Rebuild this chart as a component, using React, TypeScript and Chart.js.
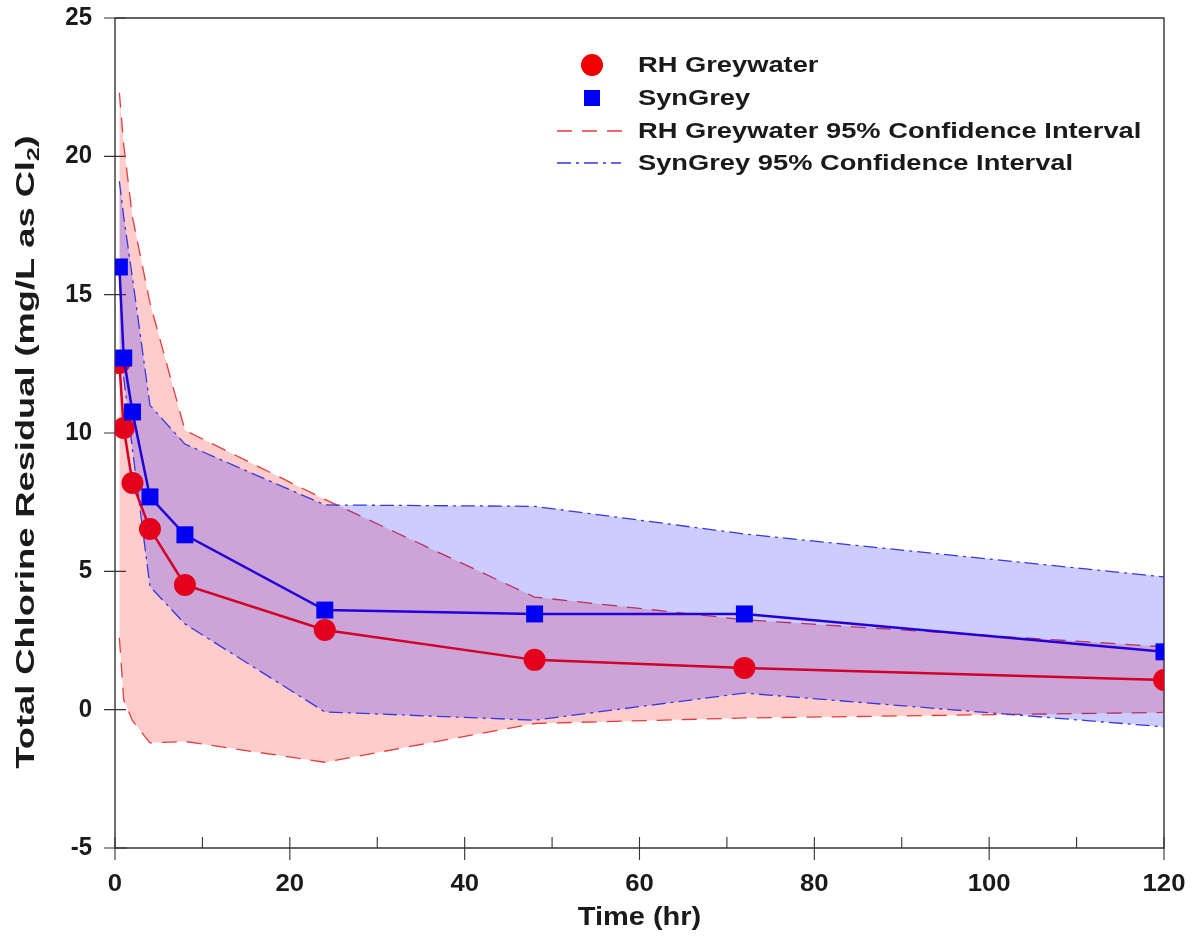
import React, { useEffect, useRef } from 'react';
import { Chart, registerables } from 'chart.js';

Chart.register(...registerables);

// ---- Data ----
const times = [0.5, 1, 2, 4, 8, 24, 48, 72, 120];
const rhGreywater = [12.53, 10.18, 8.19, 6.53, 4.51, 2.88, 1.8, 1.51, 1.07];
const synGrey = [16.0, 12.71, 10.76, 7.69, 6.32, 3.6, 3.46, 3.46, 2.09];
const rhUpperCI = [22.3, 20.4, 17.8, 14.7, 10.1, 7.6, 4.07, 3.25, 2.27];
const rhLowerCI = [2.6, 0.35, -0.4, -1.2, -1.15, -1.9, -0.5, -0.3, -0.1];
const synUpperCI = [19.1, 17.8, 15.6, 11.0, 9.6, 7.4, 7.35, 6.35, 4.8];
const synLowerCI = [13.0, 12.0, 9.4, 4.45, 3.1, -0.08, -0.38, 0.6, -0.62];

const xTicksMajor = [0, 20, 40, 60, 80, 100, 120];
const xTicksMinor = [10, 30, 50, 70, 90, 110];
const yTicks = [-5, 0, 5, 10, 15, 20, 25];

const xTitle = 'Time (hr)';
const yTitleMain = 'Total Chlorine Residual (mg/L as Cl';
const yTitleSub = '2';
const yTitleEnd = ')';

const legendLabels = [
  'RH Greywater',
  'SynGrey',
  'RH Greywater 95% Confidence Interval',
  'SynGrey 95% Confidence Interval',
];

const FONT = '"Liberation Sans", Arial, Helvetica, sans-serif';
const TEXT = '#1a1a1a';
const RED_LINE = 'rgb(208,0,40)';
const RED_MARK = 'rgb(228,0,28)';
const BLUE_LINE = 'rgb(35,0,215)';
const BLUE_MARK = 'rgb(0,0,245)';
const RED_CI = 'rgb(228,60,60)';
const BLUE_CI = 'rgb(55,55,225)';
const RED_DASH = [15, 10];
const BLUE_DASH = [14, 5, 3, 5];

const pts = (ys: number[]) => times.map((t, i) => ({ x: t, y: ys[i] }));

function drawText(
  ctx: CanvasRenderingContext2D,
  text: string,
  x: number,
  y: number,
  size: number,
  sx: number,
  align: CanvasTextAlign,
) {
  ctx.save();
  ctx.translate(x, y);
  ctx.scale(sx, 1);
  ctx.font = `bold ${size}px ${FONT}`;
  ctx.textAlign = align;
  ctx.textBaseline = 'middle';
  ctx.fillStyle = TEXT;
  ctx.fillText(text, 0, 0);
  ctx.restore();
}

const frameTicks = {
  id: 'frameTicks',
  beforeDatasetsDraw(chart: any) {
    const { ctx, chartArea: a, scales } = chart;
    const xs = scales.x;
    const ys = scales.y;
    ctx.save();
    ctx.strokeStyle = '#333';
    ctx.lineWidth = 1.4;
    ctx.beginPath();
    ctx.rect(a.left, a.top, a.right - a.left, a.bottom - a.top);
    ctx.stroke();
    ctx.lineWidth = 1.1;
    ctx.beginPath();
    xTicksMajor.forEach((v) => {
      const px = xs.getPixelForValue(v);
      ctx.moveTo(px, a.bottom - 11);
      ctx.lineTo(px, a.bottom + 12);
    });
    xTicksMinor.forEach((v) => {
      const px = xs.getPixelForValue(v);
      ctx.moveTo(px, a.bottom - 11);
      ctx.lineTo(px, a.bottom);
    });
    yTicks.forEach((v) => {
      const py = ys.getPixelForValue(v);
      ctx.moveTo(a.left - 11, py);
      ctx.lineTo(a.left + 11, py);
    });
    ctx.stroke();
    ctx.restore();
  },
  afterDraw(chart: any) {
    const { ctx, chartArea: a, scales } = chart;
    const xs = scales.x;
    const ys = scales.y;
    xTicksMajor.forEach((v) => {
      drawText(ctx, String(v), xs.getPixelForValue(v), a.bottom + 36, 24, 1.07, 'center');
    });
    yTicks.forEach((v) => {
      drawText(ctx, String(v), a.left - 23, ys.getPixelForValue(v), 25, 0.96, 'right');
    });
    drawText(ctx, xTitle, (a.left + a.right) / 2, 918, 25, 1.16, 'center');
    ctx.save();
    ctx.translate(27, 452);
    ctx.rotate(-Math.PI / 2);
    ctx.scale(1.45, 1);
    ctx.fillStyle = TEXT;
    ctx.textBaseline = 'middle';
    ctx.textAlign = 'left';
    const big = `bold 25px ${FONT}`;
    const small = `bold 17px ${FONT}`;
    ctx.font = big;
    const w1 = ctx.measureText(yTitleMain).width;
    const w3 = ctx.measureText(yTitleEnd).width;
    ctx.font = small;
    const w2 = ctx.measureText(yTitleSub).width;
    let x0 = -(w1 + w2 + w3) / 2;
    ctx.font = big;
    ctx.fillText(yTitleMain, x0, 0);
    x0 += w1;
    ctx.font = small;
    ctx.fillText(yTitleSub, x0, 7);
    x0 += w2;
    ctx.font = big;
    ctx.fillText(yTitleEnd, x0, 0);
    ctx.restore();
  },
};

const customLegend = {
  id: 'customLegend',
  afterDraw(chart: any) {
    const { ctx } = chart;
    const rows = [65, 98, 131, 163];
    const textX = 638;
    ctx.save();
    ctx.fillStyle = 'rgb(240,0,0)';
    ctx.beginPath();
    ctx.arc(592, rows[0], 11, 0, Math.PI * 2);
    ctx.fill();
    ctx.fillStyle = BLUE_MARK;
    ctx.fillRect(584, rows[1] - 8, 16, 16);
    ctx.lineWidth = 1.4;
    ctx.strokeStyle = RED_CI;
    ctx.setLineDash(RED_DASH);
    ctx.beginPath();
    ctx.moveTo(557, rows[2]);
    ctx.lineTo(622, rows[2]);
    ctx.stroke();
    ctx.strokeStyle = BLUE_CI;
    ctx.setLineDash(BLUE_DASH);
    ctx.beginPath();
    ctx.moveTo(557, rows[3]);
    ctx.lineTo(621, rows[3]);
    ctx.stroke();
    ctx.setLineDash([]);
    ctx.restore();
    legendLabels.forEach((t, i) => drawText(ctx, t, textX, rows[i] + 1, 22, 1.24, 'left'));
  },
};

export default function App() {
  const ref = useRef<HTMLCanvasElement | null>(null);

  useEffect(() => {
    document.body.style.margin = '0';
    const canvas = ref.current;
    if (!canvas) return;
    const chart = new Chart(canvas, {
      type: 'line',
      data: {
        datasets: [
          {
            label: legendLabels[0],
            data: pts(rhGreywater),
            borderColor: RED_LINE,
            borderWidth: 2.5,
            pointStyle: 'circle',
            pointRadius: 11,
            pointBackgroundColor: RED_MARK,
            pointBorderWidth: 0,
            fill: false,
            order: 2,
          },
          {
            label: legendLabels[1],
            data: pts(synGrey),
            borderColor: BLUE_LINE,
            borderWidth: 2.5,
            pointStyle: 'rect',
            pointRadius: 12,
            pointBackgroundColor: BLUE_MARK,
            pointBorderWidth: 0,
            fill: false,
            order: 1,
          },
          {
            label: 'RH upper',
            data: pts(rhUpperCI),
            borderColor: RED_CI,
            borderWidth: 1.3,
            borderDash: RED_DASH,
            pointRadius: 0,
            backgroundColor: 'rgba(255,0,0,0.2)',
            fill: '+1',
            order: 10,
          },
          {
            label: 'RH lower',
            data: pts(rhLowerCI),
            borderColor: RED_CI,
            borderWidth: 1.3,
            borderDash: RED_DASH,
            pointRadius: 0,
            fill: false,
            order: 9,
          },
          {
            label: 'Syn upper',
            data: pts(synUpperCI),
            borderColor: BLUE_CI,
            borderWidth: 1.3,
            borderDash: BLUE_DASH,
            pointRadius: 0,
            backgroundColor: 'rgba(0,0,255,0.2)',
            fill: '+1',
            order: 8,
          },
          {
            label: 'Syn lower',
            data: pts(synLowerCI),
            borderColor: BLUE_CI,
            borderWidth: 1.3,
            borderDash: BLUE_DASH,
            pointRadius: 0,
            fill: false,
            order: 7,
          },
        ],
      },
      options: {
        responsive: false,
        animation: false,
        devicePixelRatio: 1,
        layout: { padding: { top: 18, right: 28, left: 0, bottom: 0 } },
        plugins: {
          legend: { display: false },
          tooltip: { enabled: false },
        },
        elements: { line: { tension: 0 } },
        scales: {
          x: {
            type: 'linear',
            min: 0,
            max: 120,
            ticks: { display: false, stepSize: 20 },
            grid: { display: false, drawTicks: false },
            border: { display: false },
            afterFit: (s: any) => {
              s.height = 90;
            },
          },
          y: {
            type: 'linear',
            min: -5,
            max: 25,
            ticks: { display: false, stepSize: 5 },
            grid: { display: false, drawTicks: false },
            border: { display: false },
            afterFit: (s: any) => {
              s.width = 115;
            },
          },
        },
      },
      plugins: [frameTicks, customLegend],
    } as any);
    return () => chart.destroy();
  }, []);

  return (
    <div style={{ width: 1192, height: 938, background: '#fff' }}>
      <canvas ref={ref} width={1192} height={938} />
    </div>
  );
}
